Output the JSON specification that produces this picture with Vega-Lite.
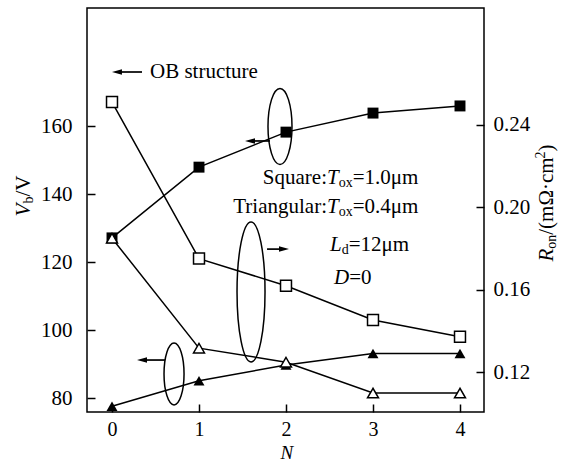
{
  "$schema": "https://vega.github.io/schema/vega-lite/v6.json",
  "width": 397,
  "height": 404,
  "autosize": {"type": "none"},
  "padding": {"left": 87, "top": 8, "right": 95, "bottom": 52},
  "background": "white",
  "config": {
    "font": "Liberation Serif",
    "view": {"stroke": "black", "strokeWidth": 1.5},
    "axis": {
      "domain": false, "grid": false, "tickColor": "black", "tickWidth": 1.5, "tickSize": -8,
      "labelFont": "Liberation Serif", "labelFontSize": 21, "labelColor": "black"
    }
  },
  "datasets": {
    "vb": [
      {"N": 0, "v": 127.1, "s": "sq"}, {"N": 1, "v": 147.9, "s": "sq"}, {"N": 2, "v": 158.2, "s": "sq"}, {"N": 3, "v": 163.8, "s": "sq"}, {"N": 4, "v": 165.9, "s": "sq"},
      {"N": 0, "v": 77.6, "s": "tri"}, {"N": 1, "v": 85.1, "s": "tri"}, {"N": 2, "v": 89.7, "s": "tri"}, {"N": 3, "v": 93.1, "s": "tri"}, {"N": 4, "v": 93.1, "s": "tri"}
    ],
    "ron": [
      {"N": 0, "r": 0.2511, "s": "sq"}, {"N": 1, "r": 0.1751, "s": "sq"}, {"N": 2, "r": 0.1619, "s": "sq"}, {"N": 3, "r": 0.1453, "s": "sq"}, {"N": 4, "r": 0.1371, "s": "sq"},
      {"N": 0, "r": 0.185, "s": "tri"}, {"N": 1, "r": 0.1316, "s": "tri"}, {"N": 2, "r": 0.1248, "s": "tri"}, {"N": 3, "r": 0.1098, "s": "tri"}, {"N": 4, "r": 0.1098, "s": "tri"}
    ]
  },
  "layer": [
    {
      "layer": [
        {
          "data": {"name": "vb"},
          "mark": {"type": "line", "color": "black", "strokeWidth": 1.5},
          "encoding": {
            "x": {"field": "N", "type": "quantitative", "scale": {"domain": [-0.2874, 4.2759], "nice": false, "zero": false},
                  "axis": {"values": [0, 1, 2, 3, 4], "title": null, "labelPadding": 15, "labelFontSize": 20, "format": "d"}},
            "y": {"field": "v", "type": "quantitative", "scale": {"domain": [75.9, 194.7], "nice": false, "zero": false},
                  "axis": {"orient": "left", "values": [80, 100, 120, 140, 160], "title": null, "labelPadding": 23}},
            "detail": {"field": "s"}
          }
        },
        {
          "data": {"name": "vb"},
          "mark": {"type": "point", "filled": true, "color": "black", "opacity": 1, "size": 120},
          "encoding": {
            "x": {"field": "N", "type": "quantitative"},
            "y": {"field": "v", "type": "quantitative"},
            "shape": {"field": "s", "type": "nominal", "scale": {"domain": ["sq", "tri"], "range": ["square", "triangle-up"]}, "legend": null}
          }
        },
        {
          "data": {"values": [{"N": 1.931, "v": 159.85}]},
          "mark": {"type": "point", "filled": false, "stroke": "black", "strokeWidth": 1.5, "opacity": 1, "size": 5776,
                   "shape": "M0,-1C0.1745,-1,0.316,-0.5523,0.316,0C0.316,0.5523,0.1745,1,0,1C-0.1745,1,-0.316,0.5523,-0.316,0C-0.316,-0.5523,-0.1745,-1,0,-1Z"},
          "encoding": {"x": {"field": "N", "type": "quantitative"}, "y": {"field": "v", "type": "quantitative"}}
        },
        {
          "data": {"values": [{"N": 1.598, "v": 111.2}]},
          "mark": {"type": "point", "filled": false, "stroke": "black", "strokeWidth": 1.5, "opacity": 1, "size": 19600,
                   "shape": "M0,-1C0.1105,-1,0.2,-0.5523,0.2,0C0.2,0.5523,0.1105,1,0,1C-0.1105,1,-0.2,0.5523,-0.2,0C-0.2,-0.5523,-0.1105,-1,0,-1Z"},
          "encoding": {"x": {"field": "N", "type": "quantitative"}, "y": {"field": "v", "type": "quantitative"}}
        },
        {
          "data": {"values": [{"N": 0.713, "v": 87.1}]},
          "mark": {"type": "point", "filled": false, "stroke": "black", "strokeWidth": 1.5, "opacity": 1, "size": 3844,
                   "shape": "M0,-1C0.1784,-1,0.323,-0.5523,0.323,0C0.323,0.5523,0.1784,1,0,1C-0.1784,1,-0.323,0.5523,-0.323,0C-0.323,-0.5523,-0.1784,-1,0,-1Z"},
          "encoding": {"x": {"field": "N", "type": "quantitative"}, "y": {"field": "v", "type": "quantitative"}}
        },
        {
          "data": {"values": [
            {"N": 0.057, "N2": 0.345, "v": 175.88},
            {"N": 1.586, "N2": 1.816, "v": 155.6},
            {"N": 1.782, "N2": 1.977, "v": 123.8},
            {"N": 0.345, "N2": 0.609, "v": 91.18}
          ]},
          "mark": {"type": "rule", "color": "black", "strokeWidth": 1.7},
          "encoding": {"x": {"field": "N", "type": "quantitative"}, "x2": {"field": "N2"}, "y": {"field": "v", "type": "quantitative"}}
        },
        {
          "data": {"values": [{"N": 0.057, "v": 175.88}, {"N": 1.586, "v": 155.6}, {"N": 0.345, "v": 91.18}]},
          "mark": {"type": "point", "filled": true, "color": "black", "opacity": 1, "size": 100, "shape": "M-1,0L1,-0.55L1,0.55Z"},
          "encoding": {"x": {"field": "N", "type": "quantitative"}, "y": {"field": "v", "type": "quantitative"}}
        },
        {
          "data": {"values": [{"N": 1.977, "v": 123.8}]},
          "mark": {"type": "point", "filled": true, "color": "black", "opacity": 1, "size": 100, "shape": "M1,0L-1,-0.55L-1,0.55Z"},
          "encoding": {"x": {"field": "N", "type": "quantitative"}, "y": {"field": "v", "type": "quantitative"}}
        },
        {
          "data": {"values": [
            {"N": 0.437, "v": 175.88, "t": "OB structure"},
            {"N": 2.767, "v": 144.7, "t": "=1.0μm"},
            {"N": 2.767, "v": 136.2, "t": "=0.4μm"},
            {"N": 2.721, "v": 125.0, "t": "=12μm"},
            {"N": 2.726, "v": 115.3, "t": "=0"}
          ]},
          "mark": {"type": "text", "align": "left", "baseline": "middle", "fontSize": 21, "color": "black"},
          "encoding": {"x": {"field": "N", "type": "quantitative"}, "y": {"field": "v", "type": "quantitative"}, "text": {"field": "t"}}
        },
        {
          "data": {"values": [
            {"N": 2.471, "v": 144.7, "t": "Square:"},
            {"N": 2.471, "v": 136.2, "t": "Triangular:"}
          ]},
          "mark": {"type": "text", "align": "right", "baseline": "middle", "fontSize": 21, "color": "black"},
          "encoding": {"x": {"field": "N", "type": "quantitative"}, "y": {"field": "v", "type": "quantitative"}, "text": {"field": "t"}}
        },
        {
          "data": {"values": [
            {"N": 2.471, "v": 144.7, "t": "T"},
            {"N": 2.471, "v": 136.2, "t": "T"},
            {"N": 2.506, "v": 125.0, "t": "L"},
            {"N": 2.552, "v": 115.3, "t": "D"}
          ]},
          "mark": {"type": "text", "align": "left", "baseline": "middle", "fontSize": 21, "fontStyle": "italic", "color": "black"},
          "encoding": {"x": {"field": "N", "type": "quantitative"}, "y": {"field": "v", "type": "quantitative"}, "text": {"field": "t"}}
        },
        {
          "data": {"values": [
            {"N": 2.606, "v": 143.2, "t": "ox"},
            {"N": 2.606, "v": 134.7, "t": "ox"},
            {"N": 2.640, "v": 123.5, "t": "d"}
          ]},
          "mark": {"type": "text", "align": "left", "baseline": "middle", "fontSize": 14, "color": "black"},
          "encoding": {"x": {"field": "N", "type": "quantitative"}, "y": {"field": "v", "type": "quantitative"}, "text": {"field": "t"}}
        },
        {
          "data": {"values": [
            {"N": 2.011, "v": 63.82, "t": "N"}
          ]},
          "mark": {"type": "text", "align": "center", "baseline": "middle", "fontSize": 19, "fontStyle": "italic", "color": "black"},
          "encoding": {"x": {"field": "N", "type": "quantitative"}, "y": {"field": "v", "type": "quantitative"}, "text": {"field": "t"}}
        },
        {
          "data": {"values": [
            {"N": -1.011, "v": 133.41, "t": "V"},
            {"N": 5.0, "v": 120.15, "t": "R"}
          ]},
          "mark": {"type": "text", "align": "left", "baseline": "middle", "angle": 270, "fontSize": 21, "fontStyle": "italic", "color": "black"},
          "encoding": {"x": {"field": "N", "type": "quantitative"}, "y": {"field": "v", "type": "quantitative"}, "text": {"field": "t"}}
        },
        {
          "data": {"values": [
            {"N": -1.011, "v": 139.24, "t": "/V"},
            {"N": 5.0, "v": 128.03, "t": "/(mΩ·cm"},
            {"N": 5.0, "v": 152.5, "t": ")"}
          ]},
          "mark": {"type": "text", "align": "left", "baseline": "middle", "angle": 270, "fontSize": 21, "color": "black"},
          "encoding": {"x": {"field": "N", "type": "quantitative"}, "y": {"field": "v", "type": "quantitative"}, "text": {"field": "t"}}
        },
        {
          "data": {"values": [
            {"N": -0.954, "v": 137.18, "t": "b"},
            {"N": 5.058, "v": 123.91, "t": "on"},
            {"N": 4.932, "v": 150.44, "t": "2"}
          ]},
          "mark": {"type": "text", "align": "left", "baseline": "middle", "angle": 270, "fontSize": 14, "color": "black"},
          "encoding": {"x": {"field": "N", "type": "quantitative"}, "y": {"field": "v", "type": "quantitative"}, "text": {"field": "t"}}
        }
      ]
    },
    {
      "layer": [
        {
          "data": {"name": "ron"},
          "mark": {"type": "line", "color": "black", "strokeWidth": 1.5},
          "encoding": {
            "x": {"field": "N", "type": "quantitative"},
            "y": {"field": "r", "type": "quantitative", "scale": {"domain": [0.1006, 0.2968], "nice": false, "zero": false},
                  "axis": {"orient": "right", "values": [0.12, 0.16, 0.2, 0.24], "format": ".2f", "title": null, "labelPadding": 17}},
            "detail": {"field": "s"}
          }
        },
        {
          "data": {"name": "ron"},
          "mark": {"type": "point", "filled": true, "fill": "white", "stroke": "black", "strokeWidth": 1.5, "opacity": 1, "size": 120},
          "encoding": {
            "x": {"field": "N", "type": "quantitative"},
            "y": {"field": "r", "type": "quantitative"},
            "shape": {"field": "s", "type": "nominal", "scale": {"domain": ["sq", "tri"], "range": ["square", "triangle-up"]}, "legend": null}
          }
        }
      ]
    }
  ],
  "resolve": {"scale": {"y": "independent"}}
}
